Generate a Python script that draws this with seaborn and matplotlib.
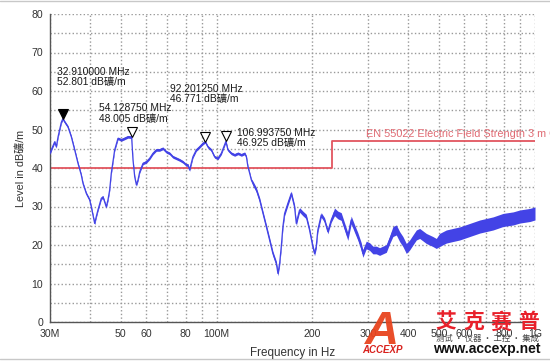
import numpy as np
import pandas as pd
import matplotlib
matplotlib.use("Agg")
import matplotlib.pyplot as plt
import seaborn as sns
from matplotlib.transforms import ScaledTranslation
from matplotlib.ticker import FixedLocator, FixedFormatter, MultipleLocator, NullLocator

sns.set_style("white")
plt.rcParams['font.family'] = ['Liberation Sans', 'Noto Sans CJK SC', 'DejaVu Sans']

# ---------------- data ----------------
freq_mhz = [30.0, 30.28, 31.03, 31.40, 31.80, 32.54, 32.91, 33.35, 34.16, 35.00,
            35.86, 36.73, 37.61, 38.08, 39.00, 39.97, 40.43, 40.93, 41.44, 41.92,
            42.43, 43.46, 44.00, 44.54, 45.06, 45.61, 46.18, 46.72, 47.88, 49.04,
            50.22, 51.47, 52.71, 54.13, 54.67, 55.35, 56.03, 56.68, 57.38, 58.77,
            60.20, 61.65, 63.14, 64.71, 66.27, 67.87, 69.56, 71.24, 72.96, 74.77,
            76.58, 78.42, 80.37, 81.31, 82.31, 83.33, 84.30, 86.40, 88.49, 90.62,
            92.20, 93.95, 96.28, 98.61, 101.0, 103.5, 106.99, 108.6, 111.3, 114.0,
            116.8, 119.7, 122.6, 124.1, 125.5, 127.1, 128.6, 130.1, 133.4, 136.6,
            139.9, 143.3, 146.8, 150.3, 154.1, 155.9, 157.8, 159.7, 161.6, 163.6,
            167.5, 171.7, 173.7, 175.8, 178.0, 180.1, 182.3, 186.7, 191.3, 195.9,
            200.6, 203.1, 205.6, 208.0, 213.2, 218.3, 223.6, 229.2, 234.7, 240.4,
            246.3, 252.3, 258.4, 264.8, 271.2, 277.8, 284.7, 288.0, 295.2, 302.4,
            309.7, 317.4, 325.1, 333.0, 341.3, 349.5, 358.0, 366.9, 375.7, 384.8,
            394.4, 404.0, 413.7, 424.0, 434.3, 455.8, 477.9, 489.8, 501.6, 526.6,
            552.3, 580.1, 623.9, 671.0, 704.3, 738.6, 794.0, 853.9, 896.3, 964.1,
            1000.0]
level_db = [43.8, 44.7, 46.8, 45.5, 48.1, 51.8, 52.8, 52.0, 50.7, 48.1,
            44.7, 41.2, 38.2, 36.0, 33.4, 31.7, 29.9, 27.8, 25.6, 27.4,
            29.1, 32.1, 32.5, 31.2, 29.9, 31.7, 34.3, 38.6, 44.7, 47.7,
            47.3, 47.7, 48.1, 48.0, 42.1, 37.7, 35.6, 36.9, 39.0, 41.2,
            41.6, 42.5, 43.8, 44.7, 44.7, 45.1, 44.2, 43.8, 42.9, 42.5,
            42.1, 41.6, 40.8, 40.8, 39.5, 41.2, 42.9, 44.7, 45.5, 46.4,
            46.8, 45.5, 44.7, 42.9, 42.5, 43.8, 46.9, 44.7, 43.8, 43.4,
            43.8, 43.4, 43.8, 42.9, 40.3, 38.6, 36.9, 36.0, 34.3, 31.7,
            28.2, 24.8, 21.3, 17.8, 15.2, 12.6, 15.2, 19.6, 24.8, 28.2,
            30.8, 33.4, 31.7, 29.9, 25.6, 27.4, 29.1, 28.2, 27.4, 23.9,
            19.6, 17.8, 19.6, 23.9, 27.8, 26.5, 23.5, 26.5, 28.6, 27.8,
            27.4, 24.8, 22.2, 26.5, 24.3, 22.2, 19.6, 17.8, 20.0, 19.6,
            18.7, 18.7, 18.3, 18.7, 19.1, 21.3, 23.5, 23.9, 22.2, 20.9,
            19.1, 20.0, 21.3, 22.6, 23.0, 21.7, 20.9, 20.4, 21.3, 22.2,
            22.6, 23.0, 23.9, 24.8, 25.2, 25.6, 26.5, 26.9, 27.4, 27.8,
            28.2]
# half width of the noise band of the trace, per frequency range
noise_edges_mhz = [130, 230, 350, 500]
noise_half_db = [0.35, 0.6, 1.0, 1.3, 1.7]

limit_freq = [30, 230, 230, 1000]
limit_db = [40, 40, 47, 47]
limit_name = "EN 55022 Electric Field Strength 3 m QP"

marker_freq = [32.91, 54.12875, 92.20125, 106.99375]
marker_db = [52.801, 48.005, 46.771, 46.925]
marker_filled = [True, False, False, False]
marker_labels = ["32.910000 MHz\n52.801 dB礦/m",
                 "54.128750 MHz\n48.005 dB礦/m",
                 "92.201250 MHz\n46.771 dB礦/m",
                 "106.993750 MHz\n46.925 dB礦/m"]
marker_label_pos = [(31.5, 66.3), (42.7, 56.8), (71.4, 61.9), (115.6, 50.5)]

xtick_vals = [30, 40, 50, 60, 70, 80, 90, 100, 200, 300, 400, 500, 600, 700, 800, 900, 1000]
xtick_text = ["30M", "", "50", "60", "", "80", "", "100M", "200", "300", "400",
              "500", "600", "", "800", "", "1G"]
ytick_vals = [0, 10, 20, 30, 40, 50, 60, 70, 80]

# ---------------- figure ----------------
fig = plt.figure(figsize=(5.5, 3.61), dpi=100)
ax = fig.add_axes([50 / 550, 1 - 322 / 361, 485 / 550, 308 / 361])
ax.set_xscale('log')
ax.set_xlim(30, 1000)
ax.set_ylim(0, 80)
ax.xaxis.set_major_locator(FixedLocator(xtick_vals))
ax.xaxis.set_major_formatter(FixedFormatter(xtick_text))
ax.xaxis.set_minor_locator(NullLocator())
ax.yaxis.set_major_locator(FixedLocator(ytick_vals))
ax.yaxis.set_minor_locator(MultipleLocator(5))

ax.set_axisbelow(True)
grid_kw = dict(color='#999999', linewidth=1.0, linestyle=':')
ax.xaxis.grid(True, which='major', **grid_kw)
ax.yaxis.grid(True, which='major', **grid_kw)
ax.yaxis.grid(True, which='minor', **grid_kw)

blue = '#4343e6'
df = pd.DataFrame({'freq': freq_mhz, 'level': level_db})
half = np.array(noise_half_db)[np.digitize(df['freq'], noise_edges_mhz)]
ax.fill_between(df['freq'], df['level'] - half, df['level'] + half,
                color=blue, lw=0, zorder=3)
sns.lineplot(data=df, x='freq', y='level', ax=ax, color=blue, lw=0.9,
             estimator=None, sort=False, zorder=4)

ax.plot(limit_freq, limit_db, color='#e2555f', lw=1.3, zorder=2)
ax.text(294.6, 48.1, limit_name, color='#e06a72', fontsize=7.8,
        ha='left', va='baseline', clip_on=False)

off = ax.transData + ScaledTranslation(0, 3.6 / 72, fig.dpi_scale_trans)
for f, d, filled in zip(marker_freq, marker_db, marker_filled):
    ax.plot([f], [d], marker='v', ms=7.2, mfc='black' if filled else 'white',
            mec='black', mew=0.8, transform=off, zorder=6, ls='none')
for (tx, ty), lab in zip(marker_label_pos, marker_labels):
    ax.text(tx, ty, lab, fontsize=7.4, ha='left', va='top', color='#1a1a1a',
            linespacing=1.08, zorder=7)

for s in ['top', 'right']:
    ax.spines[s].set_visible(False)
for s in ['left', 'bottom']:
    ax.spines[s].set_color('#555555')
    ax.spines[s].set_linewidth(1.0)
ax.tick_params(axis='both', which='major', direction='inout', length=6, width=0.9,
               color='#555555', labelsize=7.6, labelcolor='#333333', pad=2)
ax.tick_params(axis='both', which='minor', direction='inout', length=4, width=0.9,
               color='#555555')

ax.set_xlabel("")
ax.set_ylabel("")
fig.text(293 / 550, 1 - 353 / 361, "Frequency in Hz", ha='center', va='center',
         fontsize=8.4, color='#333333')
fig.text(21 / 550, 1 - 168 / 361, "Level in dB礦/m", ha='center', va='center',
         rotation=90, fontsize=7.8, color='#333333')

# frame lines of the picture
fig.add_artist(plt.Line2D([0, 1], [1 - 1 / 361, 1 - 1 / 361], color='#c8c8c8', lw=1))
fig.add_artist(plt.Line2D([0, 1], [2 / 361, 2 / 361], color='#c8c8c8', lw=1))

# watermark
fig.text(382 / 550, 1 - 332 / 361, "A", fontsize=34, fontweight='bold', style='italic',
         color='#e8441e', ha='center', va='center', alpha=0.95)
fig.text(382 / 550, 1 - 350 / 361, "ACCEXP", fontsize=7, fontweight='bold', style='italic',
         color='#d8201c', ha='center', va='center')
for i, ch in enumerate("艾克赛普"):
    fig.text((446 + 27.5 * i) / 550, 1 - 322 / 361, ch, fontsize=15, fontweight='bold',
             color='#e8202a', ha='center', va='center',
             family=['Noto Sans CJK SC', 'DejaVu Sans'])
fig.text(487 / 550, 1 - 338 / 361, "测试 · 仪器 · 工控 · 集成", fontsize=6, color='#444444',
         ha='center', va='center', family=['Noto Sans CJK SC', 'DejaVu Sans'])
fig.text(487 / 550, 1 - 349 / 361, "www.accexp.net", fontsize=10, fontweight='bold',
         color='#111111', ha='center', va='center')

fig.savefig("out.png", dpi=100)
